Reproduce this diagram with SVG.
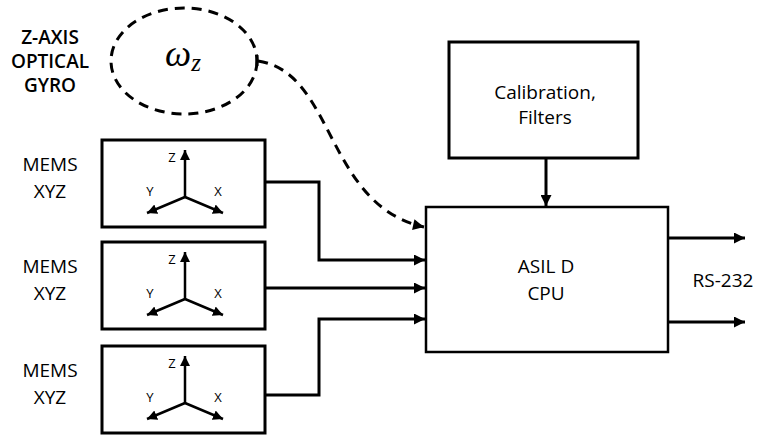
<svg xmlns="http://www.w3.org/2000/svg" width="759" height="436" viewBox="0 0 759 436">
<style>
.lbl{font-family:"Open Sans","Liberation Sans",sans-serif;font-size:19px;fill:#000;text-anchor:middle}
.ax{font-family:"Open Sans","Liberation Sans",sans-serif;font-size:13px;fill:#000;text-anchor:middle}
.box{fill:#fff;stroke:#000;stroke-width:3}
.axis{stroke:#000;stroke-width:2.5;fill:none}
.wire{stroke:#000;stroke-width:3;fill:none}
.dash{stroke:#000;stroke-width:3;fill:none;stroke-dasharray:10 7}
</style>
<defs>
<marker id="ah" viewBox="0 0 10 10" refX="10" refY="5" markerWidth="10" markerHeight="10" markerUnits="userSpaceOnUse" orient="auto">
<path d="M0,0 L10,5 L0,10 Z" fill="#000"/>
</marker>
<marker id="big" viewBox="0 0 10 10" refX="10" refY="5" markerWidth="13" markerHeight="11" markerUnits="userSpaceOnUse" orient="auto">
<path d="M0,0 L10,5 L0,10 Z" fill="#000"/>
</marker>
</defs>

<g id="gyro">
<text class="lbl" x="50" y="44" font-weight="600" font-size="15.5">Z-AXIS</text>
<text class="lbl" x="50" y="68" font-weight="600" font-size="15.5">OPTICAL</text>
<text class="lbl" x="50" y="92" font-weight="600" font-size="15.5">GYRO</text>
<ellipse class="dash" cx="184" cy="61" rx="73" ry="53"/>
<text x="165" y="66" font-family="'Liberation Serif',serif" font-style="italic" font-size="37" fill="#000">ω<tspan font-size="25" dy="5">z</tspan></text>
</g>

<g id="mems1" transform="translate(0,0)">
<text class="lbl" x="50" y="171">MEMS</text>
<text class="lbl" x="50" y="198">XYZ</text>
<rect class="box" x="102" y="140" width="163" height="87"/>
<path class="axis" d="M185,197 V150" marker-end="url(#ah)"/>
<path class="axis" d="M185,197 L223,213" marker-end="url(#ah)"/>
<path class="axis" d="M185,197 L147,213" marker-end="url(#ah)"/>
<text class="ax" x="172" y="162">Z</text>
<text class="ax" x="150" y="196">Y</text>
<text class="ax" x="218" y="196">X</text>
</g>

<g id="mems2" transform="translate(0,102)">
<text class="lbl" x="50" y="171">MEMS</text>
<text class="lbl" x="50" y="198">XYZ</text>
<rect class="box" x="102" y="140" width="163" height="87"/>
<path class="axis" d="M185,197 V150" marker-end="url(#ah)"/>
<path class="axis" d="M185,197 L223,213" marker-end="url(#ah)"/>
<path class="axis" d="M185,197 L147,213" marker-end="url(#ah)"/>
<text class="ax" x="172" y="162">Z</text>
<text class="ax" x="150" y="196">Y</text>
<text class="ax" x="218" y="196">X</text>
</g>

<g id="mems3" transform="translate(0,206)">
<text class="lbl" x="50" y="171">MEMS</text>
<text class="lbl" x="50" y="198">XYZ</text>
<rect class="box" x="102" y="140" width="163" height="87"/>
<path class="axis" d="M185,197 V150" marker-end="url(#ah)"/>
<path class="axis" d="M185,197 L223,213" marker-end="url(#ah)"/>
<path class="axis" d="M185,197 L147,213" marker-end="url(#ah)"/>
<text class="ax" x="172" y="162">Z</text>
<text class="ax" x="150" y="196">Y</text>
<text class="ax" x="218" y="196">X</text>
</g>

<g id="calib">
<rect class="box" x="449" y="42" width="189" height="116"/>
<text class="lbl" x="545" y="99" font-size="18">Calibration,</text>
<text class="lbl" x="545" y="124" font-size="18">Filters</text>
</g>

<g id="cpu">
<rect x="426" y="207" width="242" height="145" fill="#fff" stroke="#000" stroke-width="2.5"/>
<text class="lbl" x="546" y="273">ASIL D</text>
<text class="lbl" x="546" y="300">CPU</text>
</g>

<g id="rs232">
<text class="lbl" x="723" y="287">RS-232</text>
</g>

<g id="connectors">
<path class="wire" d="M265,182 H319 V260 H425" marker-end="url(#big)"/>
<path class="wire" d="M265,288 H425" marker-end="url(#big)"/>
<path class="wire" d="M265,395 H319 V319 H425" marker-end="url(#big)"/>
<path class="wire" d="M546,158 V206" marker-end="url(#big)"/>
<path class="wire" d="M668,238 H745" marker-end="url(#big)"/>
<path class="wire" d="M668,322 H745" marker-end="url(#big)"/>
<path class="wire" d="M257,55 V66"/>
<path class="dash" d="M258,61 C335,72 325,205 424,227" marker-end="url(#big)"/>
</g>
</svg>
